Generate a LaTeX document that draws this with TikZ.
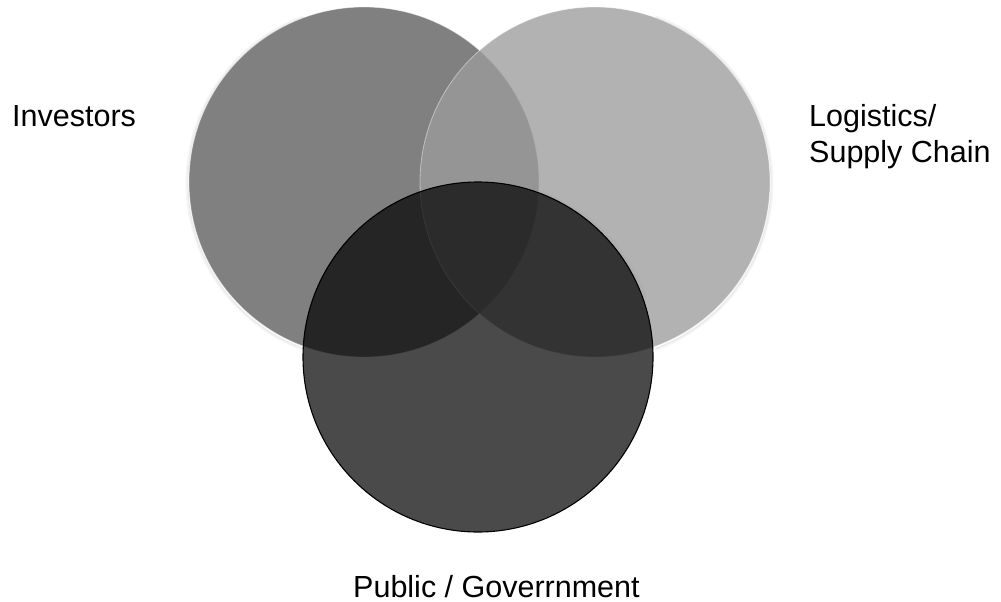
\documentclass[tikz,border=0pt]{standalone}
\usepackage{fontspec}
\setmainfont{Liberation Sans}
\begin{document}
\begin{tikzpicture}[x=1pt,y=-1pt,
  disc/.style={circle,inner sep=0pt,outer sep=0pt,minimum size=350pt},
  label/.style={font=\fontsize{30.5}{36}\selectfont,inner sep=0pt,align=left},
  rim/.style={draw=white,draw opacity=0.45,line width=0.8pt}]
\useasboundingbox (0,0) rectangle (1001,602);

% soft shadow below the lower disc
\foreach \r/\o in {176/0.10,177/0.08,178/0.06,179/0.04,180/0.025}
  \draw[black,draw opacity=\o,line width=1.2pt] (478,359) ++(200:\r) arc[start angle=200,end angle=340,radius=\r];
% faint shadow on the outer edges of the upper discs
\foreach \r/\o in {176/0.08,177/0.05,178/0.03}{
  \draw[black,draw opacity=\o,line width=1pt] (364,183) ++(110:\r) arc[start angle=110,end angle=250,radius=\r];
  \draw[black,draw opacity=\o,line width=1pt] (595,183) ++(-70:\r) arc[start angle=-70,end angle=70,radius=\r];
}

% the three sets
\node[disc,fill={rgb,255:red,128;green,128;blue,128},rim] (inv) at (364,182) {};
\node[disc,fill={rgb,255:red,156;green,156;blue,156},fill opacity=0.78,rim] (log) at (595,182) {};
\node[disc,fill=black,fill opacity=0.71,draw=black,line width=1.1pt] (pub) at (478,357) {};

% set names (base anchor of a two-line node sits on its last line)
\node[label,anchor=base west] (tinv) at (12,126.5) {Investors};
\node[label,anchor=base west] (tlog) at (809,162.5) {Logistics/\\Supply Chain};
\node[label,anchor=base west] (tpub) at (353,597) {Public / Goverrnment};
\end{tikzpicture}
\end{document}
